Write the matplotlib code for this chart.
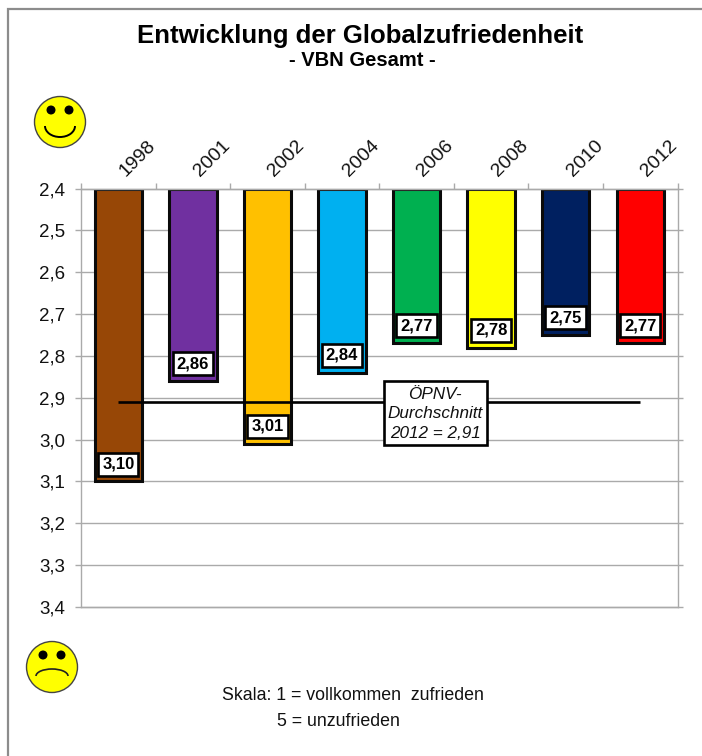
import matplotlib
matplotlib.use("Agg")
import matplotlib.pyplot as plt
from matplotlib.patches import Circle, Arc, Rectangle

years = ["1998", "2001", "2002", "2004", "2006", "2008", "2010", "2012"]
values = [3.10, 2.86, 3.01, 2.84, 2.77, 2.78, 2.75, 2.77]
colors = ["#974706", "#7030A0", "#FFC000", "#00B0F0", "#00B050", "#FFFF00", "#002060", "#FF0000"]
average = [2.91] * 8
yticks = [2.4, 2.5, 2.6, 2.7, 2.8, 2.9, 3.0, 3.1, 3.2, 3.3, 3.4]

plt.rcParams["font.family"] = ["Liberation Sans", "DejaVu Sans"]
W, H = 702, 756
fig = plt.figure(figsize=(W / 100, H / 100), dpi=100, facecolor="white")

# decoration layer in pixel coordinates
bg = fig.add_axes([0, 0, 1, 1], zorder=0)
bg.set_xlim(0, W); bg.set_ylim(H, 0); bg.axis("off")
bg.add_patch(Rectangle((8, 9), 720, 780, fc="white", ec="#8c8c8c", lw=1.6))

L, R, T, B = 81, 677.5, 188.5, 607
ax = fig.add_axes([L / W, 1 - B / H, (R - L) / W, (B - T) / H], zorder=1)
ax.patch.set_alpha(0)
x = list(range(8))
ax.set_xlim(-0.5, 7.5)
ax.set_ylim(3.4, 2.4)
ax.set_yticks(yticks)
ax.set_yticklabels([f"{v:.1f}".replace(".", ",") for v in yticks], fontsize=13.5)
for lab in ax.get_yticklabels():
    lab.set_verticalalignment("center_baseline")
ax.set_xticks([i - 0.5 for i in range(9)], minor=False)
ax.set_xticklabels([""] * 9)
ax.xaxis.tick_top()
ax.tick_params(axis="x", length=4.5, width=1, color="#aaaaaa", top=True, bottom=False)
ax.tick_params(axis="y", length=4.5, width=1, color="#aaaaaa", pad=7, labelcolor="#111111")
for s in ("bottom", "right", "left", "top"):
    ax.spines[s].set_color("#aaaaaa"); ax.spines[s].set_linewidth(1)
for v in yticks:
    ax.plot([-0.5, 7.57], [v, v], color="#aaaaaa", lw=1, zorder=1, clip_on=False, solid_capstyle="butt")

ax.bar(x, [v - 2.4 for v in values], bottom=2.4, width=0.635, color=colors,
       edgecolor="#0a0a0a", linewidth=2.2, zorder=2)
ax.plot(x, average, color="black", lw=1.9, zorder=3, solid_capstyle="butt")

for i, v in enumerate(values):
    ax.annotate(f"{v:.2f}".replace(".", ","), (i, v), xytext=(0, 12.5), textcoords="offset points",
                ha="center", va="center", fontsize=12, fontweight="bold", color="black", zorder=4,
                bbox=dict(boxstyle="square,pad=0.24", fc="white", ec="black", lw=1.9))
for i, y in enumerate(years):
    ax.annotate(y, (i, 2.4), xytext=(7, 6), textcoords="offset points", rotation=45,
                rotation_mode="anchor", ha="left", va="bottom", fontsize=14, color="#111111",
                annotation_clip=False)

# overlay texts and shapes
ov = fig.add_axes([0, 0, 1, 1], zorder=3)
ov.set_xlim(0, W); ov.set_ylim(H, 0); ov.axis("off")
ov.text(360, 36, "Entwicklung der Globalzufriedenheit", ha="center", va="center",
        fontsize=18.5, fontweight="bold", color="black")
ov.text(362, 61, "- VBN Gesamt -", ha="center", va="center", fontsize=14.5, fontweight="bold", color="black")
ov.add_patch(Rectangle((383.5, 380.5), 103, 64, fc="white", ec="black", lw=1.9))
for yy, t in zip((394.5, 413, 433), ("ÖPNV-", "Durchschnitt", "2012 = 2,91")):
    ov.text(435, yy, t, ha="center", va="center", fontsize=12.3, style="italic", color="#111111")
ov.text(353, 696, "Skala: 1 = vollkommen  zufrieden", ha="center", va="center", fontsize=12.8, color="#111111")
ov.text(338, 721, "5 = unzufrieden", ha="center", va="center", fontsize=12.8, color="#111111")

def face(cx, cy, happy):
    ov.add_patch(Circle((cx, cy), 25.5, fc="#FFFF00", ec="#444444", lw=1))
    for dx in (-9, 9):
        ov.add_patch(Circle((cx + dx, cy - 12), 3.8, fc="black", ec="black"))
    if happy:
        ov.add_patch(Arc((cx, cy + 4), 30, 22, theta1=0, theta2=180, color="black", lw=1.4))
    else:
        ov.add_patch(Arc((cx, cy + 9), 32, 14, theta1=180, theta2=360, color="#222222", lw=1.2))

face(60, 122, True)
face(52, 667, False)

fig.savefig("out.png", dpi=100, facecolor="white")
